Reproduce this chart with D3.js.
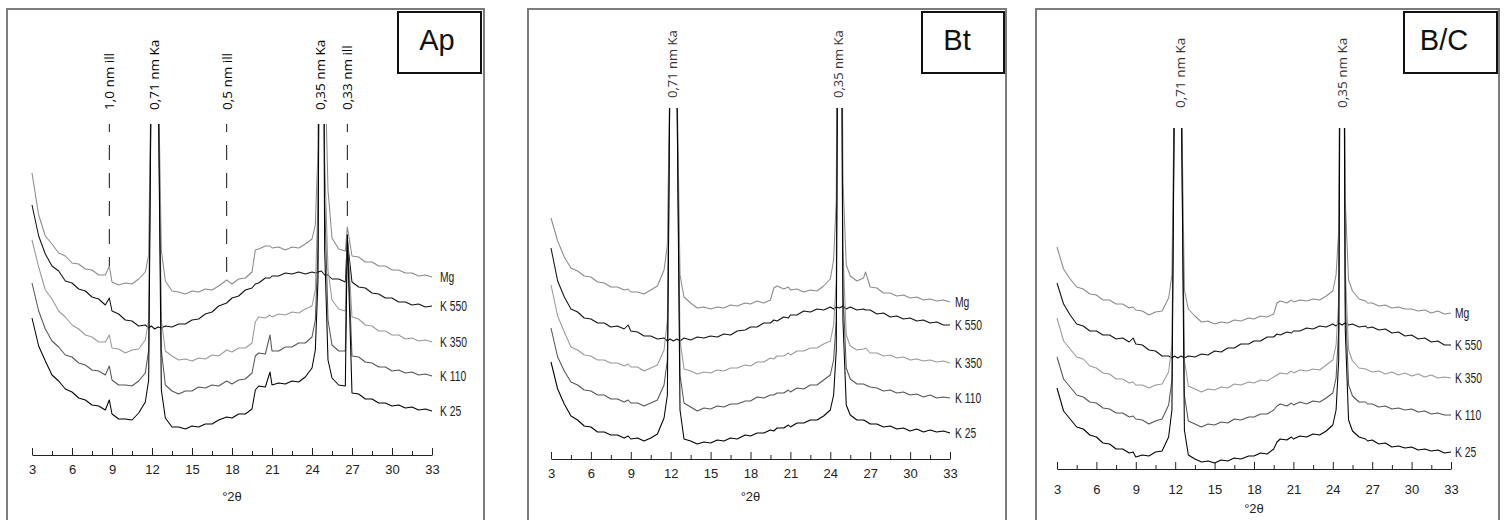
<!DOCTYPE html>
<html><head><meta charset="utf-8">
<script src="https://cdn.jsdelivr.net/npm/d3@7"></script>
<style>
html,body{margin:0;padding:0;background:#fff;}
svg{display:block;}
</style></head>
<body>
<svg id="chart" width="1504" height="520"></svg>
<script>
// ---- DATA (intensity in arbitrary counts) ----
const twoTheta = [3,3.5,4,4.5,5,5.5,6,6.5,7,7.5,8,8.5,8.8,9,9.5,10,10.5,11,11.5,11.75,11.95,12.2,12.45,12.7,13,13.5,14,14.5,15,15.5,16,16.5,17,17.6,18,18.5,19,19.5,19.75,20,20.5,20.85,21,21.5,22,22.5,23,23.5,24,24.25,24.45,24.7,24.95,25.2,25.5,26,26.5,26.65,27,27.5,28,28.5,29,29.5,30,30.5,31,31.5,32,32.5,33];
const seriesNames = ["Mg","K 550","K 350","K 110","K 25"];
const panelNames = ["Ap","Bt","B/C"];

const apMg   = [2820,2400,2190,2110,2020,1990,1920,1910,1860,1850,1800,1800,1890,1730,1700,1720,1710,1760,1830,2000,4000,9000,4000,2050,1740,1640,1630,1610,1640,1630,1660,1650,1690,1750,1710,1760,1770,1830,2050,2060,2090,2090,2070,2080,2050,2080,2070,2110,2160,2300,3050,9000,4000,2650,2170,2060,2040,2280,1990,1980,1930,1930,1890,1890,1850,1850,1820,1820,1790,1800,1780];
const apK550 = [2500,2190,2010,1890,1840,1740,1720,1660,1640,1580,1560,1500,1570,1440,1410,1350,1340,1290,1300,1270,1290,1260,1280,1270,1290,1280,1310,1310,1350,1360,1410,1430,1490,1520,1570,1590,1650,1670,1710,1720,1770,1770,1790,1790,1820,1810,1830,1810,1830,1820,1830,1840,1800,1800,1760,1760,1730,2150,1730,1680,1670,1620,1610,1570,1570,1530,1530,1500,1510,1480,1490];
const apK350 = [2150,1880,1650,1560,1440,1380,1300,1260,1200,1180,1130,1130,1200,1070,1060,1020,1050,1060,1150,1350,4000,9000,4000,1350,1040,990,950,960,940,970,960,1000,990,1050,1030,1070,1070,1120,1330,1380,1370,1400,1380,1410,1400,1430,1420,1460,1490,1650,2550,9000,2950,1850,1550,1460,1440,2200,1380,1360,1300,1290,1240,1240,1200,1200,1160,1170,1140,1150,1130];
const apK110 = [1720,1440,1260,1140,1080,1000,980,920,900,850,840,800,890,750,700,700,690,740,820,1050,4000,9000,4000,1050,700,640,610,640,640,680,670,700,690,740,710,750,760,820,990,1020,1010,1200,1040,1040,1080,1080,1120,1120,1180,1350,2050,9000,2550,1350,1100,1040,1040,2200,990,980,930,920,880,880,840,850,820,830,800,810,790];
const apK25  = [1370,1090,940,800,740,660,630,570,550,500,490,450,550,410,360,360,350,420,530,750,4000,9000,4000,650,370,280,280,260,290,280,310,310,350,380,370,410,410,460,650,690,680,830,700,720,710,740,730,780,870,1050,1750,9000,2050,950,770,700,690,2200,620,610,560,560,520,520,490,500,470,480,450,460,440];

const btMg   = [2410,2180,2020,1910,1880,1830,1820,1770,1760,1720,1720,1690,1700,1670,1670,1650,1690,1730,1890,2140,4000,9000,4000,1840,1620,1560,1510,1520,1500,1520,1510,1540,1530,1560,1550,1580,1560,1590,1710,1730,1700,1720,1690,1700,1670,1690,1680,1730,1800,1990,2590,9000,2790,1940,1830,1780,1810,1870,1720,1710,1660,1660,1630,1640,1610,1620,1590,1600,1580,1590,1570];
const btK550 = [2110,1780,1620,1500,1470,1410,1400,1360,1360,1320,1330,1300,1340,1280,1270,1230,1230,1200,1210,1180,1200,1180,1200,1180,1210,1190,1220,1210,1230,1220,1250,1240,1280,1290,1320,1320,1360,1360,1390,1380,1420,1410,1440,1440,1480,1470,1500,1490,1520,1500,1520,1510,1530,1500,1520,1490,1500,1490,1490,1450,1460,1420,1430,1400,1410,1380,1390,1360,1370,1340,1340];
const btK350 = [1740,1430,1270,1120,1090,1040,1030,990,990,960,960,930,950,920,920,880,910,940,1090,1390,4000,9000,4000,1190,900,880,850,870,860,890,880,910,910,940,930,970,970,1010,1000,1030,1030,1060,1040,1080,1080,1110,1110,1150,1180,1340,1790,9000,2090,1240,1130,1090,1100,1110,1060,1060,1030,1040,1010,1020,990,1000,980,990,970,980,960];
const btK110 = [1310,1020,880,770,740,690,680,640,640,600,600,570,590,560,560,530,560,590,740,990,4000,9000,4000,840,560,520,480,510,500,530,520,550,550,580,580,620,610,640,640,660,660,690,670,710,700,740,740,790,840,990,1390,9000,1690,910,800,750,750,740,720,710,680,690,660,670,640,650,620,640,610,620,610];
const btK25  = [970,700,550,430,390,330,320,270,270,240,240,210,230,200,210,180,210,250,410,640,4000,9000,4000,490,200,180,150,170,160,190,180,210,200,240,230,260,260,290,280,310,310,340,320,360,360,390,390,430,490,640,1090,9000,1390,540,440,390,390,380,350,350,320,330,300,310,280,300,270,290,270,280,260];

const bcMg   = [2220,2000,1900,1820,1800,1750,1740,1690,1690,1650,1650,1610,1620,1590,1580,1540,1570,1580,1710,1940,4000,9000,4000,1790,1600,1530,1470,1480,1450,1470,1460,1490,1480,1510,1500,1530,1520,1550,1660,1680,1660,1690,1670,1690,1680,1700,1690,1730,1780,1940,2390,9000,2690,1890,1780,1700,1680,1660,1660,1630,1640,1610,1620,1600,1600,1580,1590,1560,1580,1550,1560];
const bcK550 = [1860,1650,1540,1450,1430,1380,1380,1340,1340,1300,1310,1270,1310,1250,1240,1190,1180,1130,1130,1110,1130,1110,1130,1110,1130,1120,1150,1140,1180,1170,1210,1210,1250,1250,1280,1280,1320,1320,1350,1340,1370,1360,1380,1380,1410,1400,1430,1420,1450,1430,1460,1440,1460,1440,1450,1420,1430,1410,1420,1390,1400,1360,1370,1330,1340,1300,1310,1270,1280,1240,1240];
const bcK350 = [1510,1280,1200,1120,1100,1030,1010,960,950,900,900,860,870,840,840,810,840,850,970,1240,4000,9000,4000,1090,830,800,770,800,790,820,810,850,840,870,860,890,880,920,940,960,950,980,960,990,980,1000,990,1040,1090,1240,1690,9000,1990,1190,1080,1010,1000,990,970,980,950,970,940,960,930,950,920,940,910,920,910];
const bcK110 = [1120,900,820,740,720,670,660,610,600,560,560,520,530,500,490,450,480,500,640,890,4000,9000,4000,740,480,450,420,450,440,470,460,500,490,520,520,550,550,590,630,650,630,660,640,670,650,680,670,710,760,910,1390,9000,1690,840,730,670,670,650,650,620,630,600,610,590,600,570,580,550,560,540,540];
const bcK25  = [810,580,500,420,400,340,320,260,250,200,200,160,170,120,140,130,170,180,320,590,4000,9000,4000,390,140,100,70,80,60,90,80,110,100,130,130,160,150,200,270,300,290,320,300,330,320,350,340,380,440,590,1090,9000,1390,490,380,320,300,280,290,250,260,220,230,210,220,190,200,180,190,160,170];

const xTicksMajor = [3,6,9,12,15,18,21,24,27,30,33];
const xTicksMinor = [4.5,7.5,10.5,13.5,16.5,19.5,22.5,25.5,28.5,31.5];

const apPeakLabels = ["1,0 nm ill","0,71 nm Ka","0,5 nm ill","0,35 nm Ka","0,33 nm ill"];
const apPeakPos    = [8.8,12.15,17.6,24.6,26.65];
const apPeakDashed = [true,false,true,false,true];
const btPeakLabels = ["0,71 nm Ka","0,35 nm Ka"];
const btPeakPos    = [12.1,24.6];
const bcPeakLabels = ["0,71 nm Ka","0,35 nm Ka"];
const bcPeakPos    = [12.35,24.7];

// ---- LAYOUT ----
const seriesColors = ["#8a8a8a","#111111","#999999","#555555","#000000"];
const panels = [
  {name:panelNames[0], data:[apMg,apK550,apK350,apK110,apK25], peaks:apPeakPos, labels:apPeakLabels, dashed:apPeakDashed,
   frame:[7,9,484,540], x0:32, x1:432, axisY:455, topY:124, yMax:3310, box:[398,12,481,73], boxTextX:437,
   labelX:440, tickPad:10, titleY:501, peakLabelY:110, peakColor:"#000", peakSize:13.5},
  {name:panelNames[1], data:[btMg,btK550,btK350,btK110,btK25], peaks:btPeakPos, labels:btPeakLabels, dashed:[false,false],
   frame:[528,9,1006,540], x0:551, x1:950, axisY:459, topY:108, yMax:3510, box:[922,12,1004,73], boxTextX:957,
   labelX:955, tickPad:10, titleY:501, peakLabelY:98, peakColor:"#333", peakSize:13},
  {name:panelNames[2], data:[bcMg,bcK550,bcK350,bcK110,bcK25], peaks:bcPeakPos, labels:bcPeakLabels, dashed:[false,false],
   frame:[1036,9,1499,540], x0:1057, x1:1451, axisY:469, topY:128, yMax:3410, box:[1404,12,1497,73], boxTextX:1444,
   labelX:1455, tickPad:16, titleY:513, peakLabelY:108, peakColor:"#333", peakSize:13.5}
];

const svg = d3.select("#chart");
const defs = svg.append("defs");

function valueAt(series, t){
  const i = d3.bisectLeft(twoTheta, t);
  if (twoTheta[i] === t) return series[i];
  const t0 = twoTheta[i-1], t1 = twoTheta[i];
  return series[i-1] + (series[i]-series[i-1])*(t-t0)/(t1-t0);
}

panels.forEach((p,pi)=>{
  const g = svg.append("g");
  g.append("rect")
    .attr("x",p.frame[0]).attr("y",p.frame[1])
    .attr("width",p.frame[2]-p.frame[0]).attr("height",p.frame[3]-p.frame[1])
    .attr("fill","none").attr("stroke","#7c7c7c").attr("stroke-width",2);

  const x = d3.scaleLinear().domain([3,33]).range([p.x0,p.x1]);
  const y = d3.scaleLinear().domain([0,p.yMax]).range([p.axisY,p.topY]);

  const clipId = "clip"+pi;
  defs.append("clipPath").attr("id",clipId).append("rect")
    .attr("x",p.x0-4).attr("y",p.topY).attr("width",p.x1-p.x0+8).attr("height",p.axisY-p.topY);

  const line = d3.line().x((d,i)=>x(twoTheta[i])).y(d=>y(d));
  const lg = g.append("g").attr("clip-path",`url(#${clipId})`);
  p.data.forEach((s,si)=>{
    lg.append("path").attr("d",line(s)).attr("fill","none")
      .attr("stroke",seriesColors[si]).attr("stroke-width",1.05).attr("stroke-linejoin","round");
  });

  // series labels at the end of each trace
  p.data.forEach((s,si)=>{
    g.append("text")
      .attr("transform",`translate(${p.labelX},${y(s[s.length-1])}) scale(0.74,1)`)
      .attr("dy","0.36em")
      .attr("font-family","'Liberation Sans', Arial, sans-serif").attr("font-size",14).attr("fill","#222")
      .text(seriesNames[si]);
  });

  // axis
  const axMajor = d3.axisBottom(x).tickValues(xTicksMajor).tickSizeInner(-7).tickSizeOuter(0)
    .tickPadding(p.tickPad).tickFormat(d3.format("d"));
  const axG = g.append("g").attr("transform",`translate(0,${p.axisY})`).attr("color","#222").call(axMajor);
  axG.selectAll("text").attr("font-family","'Liberation Sans', Arial, sans-serif").attr("font-size",13).attr("fill","#222");
  const axMinor = d3.axisBottom(x).tickValues(xTicksMinor).tickSizeInner(-4).tickSizeOuter(0).tickFormat("");
  const axm = g.append("g").attr("transform",`translate(0,${p.axisY})`).attr("color","#222").call(axMinor);
  axm.select(".domain").remove();

  g.append("text").attr("x",x(18)).attr("y",p.titleY).attr("text-anchor","middle")
    .attr("font-family","'Liberation Sans', Arial, sans-serif").attr("font-size",13).attr("fill","#222")
    .text("°2θ");

  // peak labels + dashed reference lines
  p.peaks.forEach((t,k)=>{
    g.append("text")
      .attr("transform",`translate(${x(t)},${p.peakLabelY}) rotate(-90)`)
      .attr("dy","0.36em").attr("text-anchor","start")
      .attr("font-family","'Open Sans', 'DejaVu Sans', sans-serif").attr("font-size",p.peakSize).attr("fill",p.peakColor)
      .text(p.labels[k]);
    if (p.dashed[k]) {
      g.append("line").attr("x1",x(t)).attr("x2",x(t))
        .attr("y1",p.topY).attr("y2",y(valueAt(p.data[0],t)))
        .attr("stroke","#111").attr("stroke-width",1).attr("stroke-dasharray","15,13").attr("stroke-dashoffset",7);
    }
  });

  // panel name box
  g.append("rect").attr("x",p.box[0]).attr("y",p.box[1]).attr("width",p.box[2]-p.box[0]).attr("height",p.box[3]-p.box[1])
    .attr("fill","#fff").attr("stroke","#111").attr("stroke-width",2);
  g.append("text").attr("x",p.boxTextX).attr("y",50).attr("text-anchor","middle")
    .attr("font-family","'Liberation Sans', Arial, sans-serif").attr("font-size",29).attr("fill","#111")
    .text(p.name);
});
</script>
</body></html>
